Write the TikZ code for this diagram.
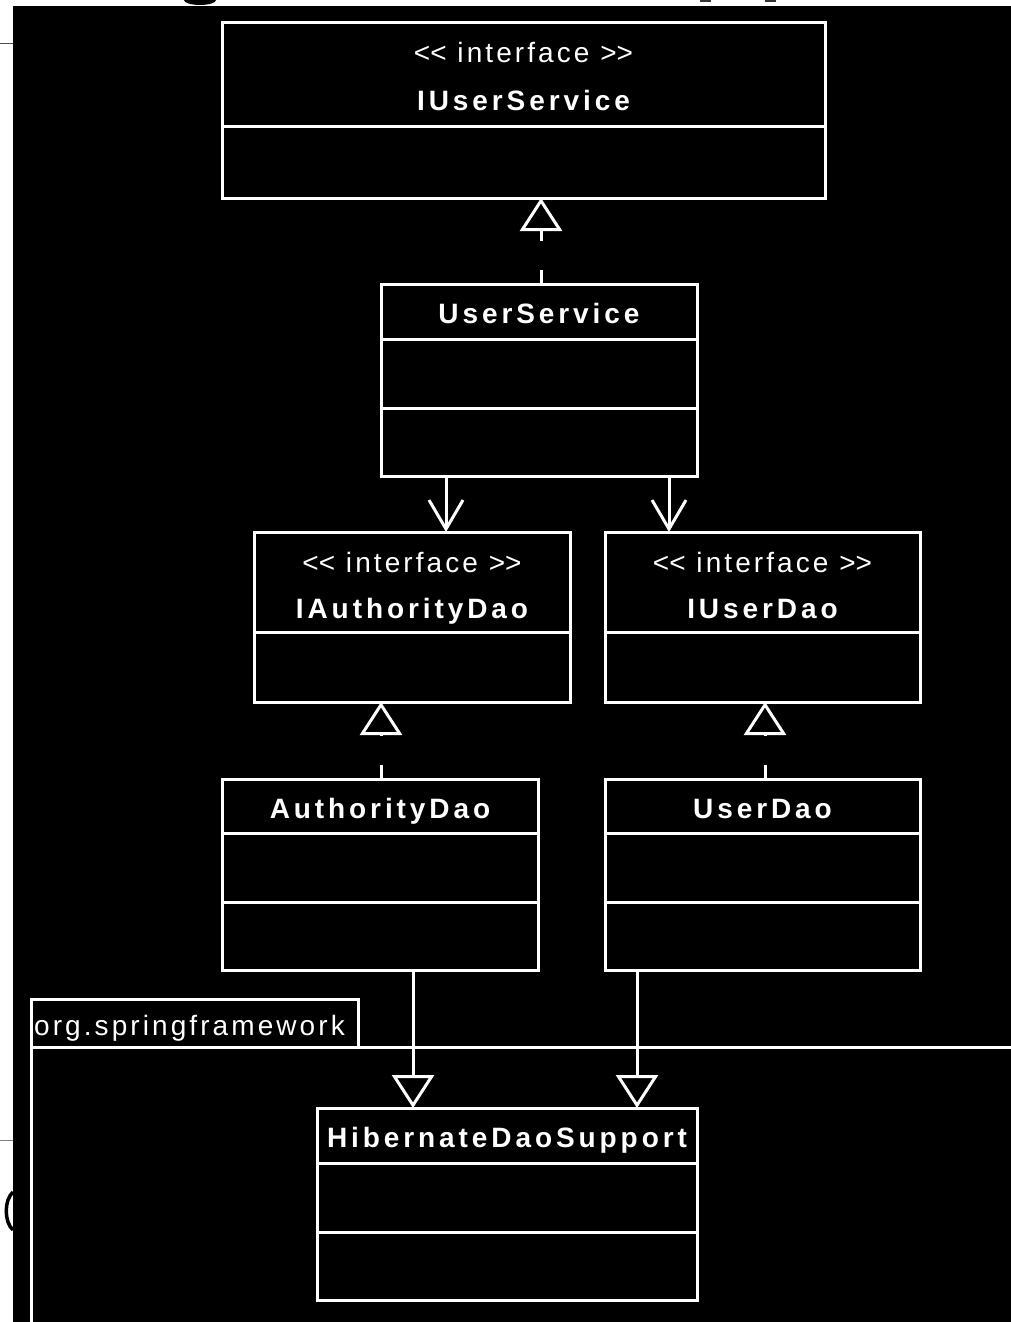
\documentclass[tikz,border=0pt]{standalone}
\usepackage{fontspec}
\setmainfont{Liberation Sans}
\newfontfamily\umlreg{Liberation Sans}[LetterSpace=11]
\newfontfamily\umlbf{Liberation Sans}[LetterSpace=14]
\usetikzlibrary{arrows.meta}

\begin{document}
\begin{tikzpicture}[x=1pt, y=-1pt,
  classbox/.style={draw=white, fill=black, line width=3pt, rectangle,
    inner sep=0pt, outer sep=0pt},
  divider/.style={draw=white, line width=3pt},
  stereo/.style={text=white, inner sep=0pt, anchor=base,
    font=\umlreg\fontsize{28}{34}\selectfont},
  cname/.style={text=white, inner sep=0pt, anchor=base,
    font=\umlbf\bfseries\fontsize{28}{34}\selectfont},
  pkglabel/.style={text=white, inner sep=0pt, anchor=base west,
    font=\umlreg\fontsize{28}{34}\selectfont},
  gen/.style={draw=white, line width=3pt,
    -{Triangle[open, length=33pt, width=42pt]}},
  real/.style={gen, dash pattern=on 14pt off 29pt},
  dep/.style={draw=white, line width=3pt,
    -{Straight Barb[length=29pt, width=34pt]}}
]
\useasboundingbox (0,0) rectangle (1011,1322);
\fill[white] (0,0) rectangle (1011,1322);

% surrounding page fragments
\draw[gray!60!black, line width=1pt] (0,44) -- (13,44);
\draw[gray, line width=1pt] (0,1140) -- (13,1140);
\draw[black, line width=3.5pt] (13,1192) .. controls (4,1200) and (4,1222) .. (13,1230);
\fill[black] (200,0) ellipse [x radius=16pt, y radius=5pt];
\fill[black!80] (700,0) rectangle (711,2);
\fill[black!80] (765,0) rectangle (776,2);

% canvas
\fill[black] (13,6) rectangle (1011,1322);

% package org.springframework
\draw[white, line width=3pt] (31,1047) rectangle (358,999);
\draw[white, line width=3pt] (31,1330) -- (31,1047) -- (1020,1047);
\node[pkglabel] (pkg) at (34,1035) {org.springframework};

% IUserService
\node[classbox, minimum width=603pt, minimum height=175pt] (ius) at (523.5,110.5) {};
\draw[divider] ([yshift=-103pt]ius.north west) -- ([yshift=-103pt]ius.north east);
\node[stereo] (ius-st) at ([yshift=-40pt]ius.north) {<\kern0pt< interface >\kern0pt>};
\node[cname] (ius-n) at ([yshift=-87pt]ius.north) {IUserService};

% UserService
\node[classbox, minimum width=316pt, minimum height=192pt] (us) at (539,380) {};
\draw[divider] ([yshift=-55pt]us.north west) -- ([yshift=-55pt]us.north east);
\draw[divider] ([yshift=-124pt]us.north west) -- ([yshift=-124pt]us.north east);
\node[cname] (us-n) at ([yshift=-39pt]us.north) {UserService};

% IAuthorityDao
\node[classbox, minimum width=316pt, minimum height=170pt] (iad) at (412,617) {};
\draw[divider] ([yshift=-100pt]iad.north west) -- ([yshift=-100pt]iad.north east);
\node[stereo] (iad-st) at ([yshift=-40pt]iad.north) {<\kern0pt< interface >\kern0pt>};
\node[cname] (iad-n) at ([yshift=-86pt]iad.north) {IAuthorityDao};

% IUserDao
\node[classbox, minimum width=315pt, minimum height=170pt] (iud) at (762.5,617) {};
\draw[divider] ([yshift=-100pt]iud.north west) -- ([yshift=-100pt]iud.north east);
\node[stereo] (iud-st) at ([yshift=-40pt]iud.north) {<\kern0pt< interface >\kern0pt>};
\node[cname] (iud-n) at ([yshift=-86pt]iud.north) {IUserDao};

% AuthorityDao
\node[classbox, minimum width=316pt, minimum height=191pt] (ad) at (380,874.5) {};
\draw[divider] ([yshift=-54pt]ad.north west) -- ([yshift=-54pt]ad.north east);
\draw[divider] ([yshift=-123pt]ad.north west) -- ([yshift=-123pt]ad.north east);
\node[cname] (ad-n) at ([yshift=-39pt]ad.north) {AuthorityDao};

% UserDao
\node[classbox, minimum width=315pt, minimum height=191pt] (ud) at (762.5,874.5) {};
\draw[divider] ([yshift=-54pt]ud.north west) -- ([yshift=-54pt]ud.north east);
\draw[divider] ([yshift=-123pt]ud.north west) -- ([yshift=-123pt]ud.north east);
\node[cname] (ud-n) at ([yshift=-39pt]ud.north) {UserDao};

% HibernateDaoSupport
\node[classbox, minimum width=380pt, minimum height=192pt] (hds) at (507,1204) {};
\draw[divider] ([yshift=-55pt]hds.north west) -- ([yshift=-55pt]hds.north east);
\draw[divider] ([yshift=-124pt]hds.north west) -- ([yshift=-124pt]hds.north east);
\node[cname] (hds-n) at ([yshift=-39pt]hds.north) {HibernateDaoSupport};

% realizations
\draw[real] ([xshift=2pt]us.north) -- ([xshift=2pt]us.north |- ius.south);
\draw[real] ([xshift=1pt]ad.north) -- ([xshift=1pt]ad.north |- iad.south);
\draw[real] ([xshift=2.5pt]ud.north) -- ([xshift=2.5pt]ud.north |- iud.south);

% dependencies
\draw[dep] ([xshift=-93pt]us.south) -- ([xshift=-93pt]us.south |- iad.north);
\draw[dep] ([xshift=130pt]us.south) -- ([xshift=130pt]us.south |- iud.north);

% generalizations
\draw[gen] ([xshift=33pt]ad.south) -- ([xshift=33pt]ad.south |- hds.north);
\draw[gen] ([xshift=-125.5pt]ud.south) -- ([xshift=-125.5pt]ud.south |- hds.north);
\end{tikzpicture}
\end{document}
